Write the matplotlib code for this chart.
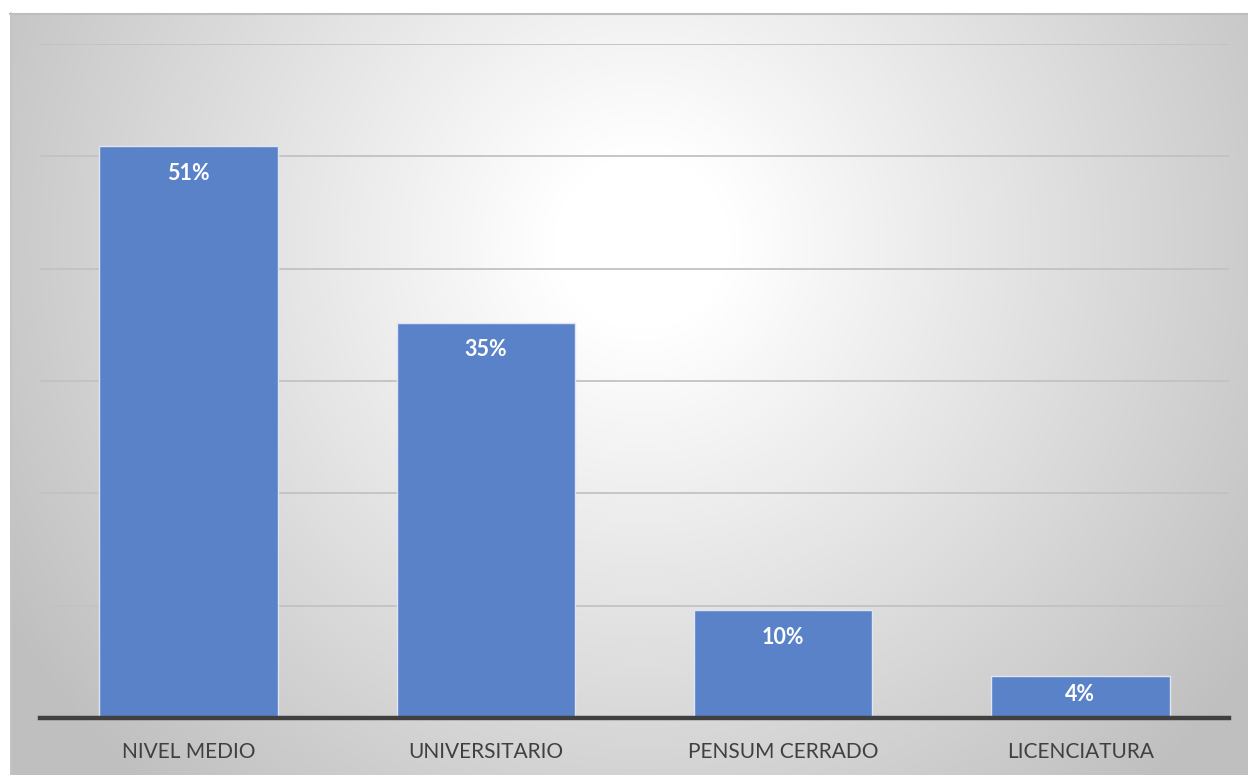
import numpy as np
import matplotlib
matplotlib.use("Agg")
import matplotlib.pyplot as plt

categories = ["NIVEL MEDIO", "UNIVERSITARIO", "PENSUM CERRADO", "LICENCIATURA"]
values = [50.9, 35.2, 9.6, 3.7]
labels = ["51%", "35%", "10%", "4%"]
grid_ticks = [0, 10, 20, 30, 40, 50, 60]

W, H = 1248, 775
fig = plt.figure(figsize=(W / 100, H / 100), dpi=100)
fig.patch.set_facecolor("white")

# chart area background with radial gradient
bx0, by1 = 10 / W, 1 - 13 / H
bg = fig.add_axes([bx0, 0, 1 - bx0, by1])
bg.set_axis_off()
ny, nx = 400, 640
yy, xx = np.mgrid[0:ny, 0:nx]
cx, cy = 0.51 * nx, 0.30 * ny
r = np.sqrt(((xx - cx) / nx) ** 2 + ((yy - cy) / ny * 0.62) ** 2)
r = np.clip(r / 0.60, 0, 1)
light, dark = 1.0, 0.75
v = light - (light - dark) * np.clip((r - 0.12) / 0.88, 0, 1) ** 1.0
img = np.dstack([v, v, v])
bg.imshow(img, extent=[0, 1, 0, 1], aspect="auto", origin="upper", interpolation="bilinear")
bg.set_xlim(0, 1); bg.set_ylim(0, 1)
# top border line
bg.plot([0, 1], [0.999, 0.999], color="#bdbdbd", lw=1.5, transform=bg.transAxes, clip_on=False)
bg.plot([0.001, 0.001], [0, 1], color="#c4c4c4", lw=1.2, transform=bg.transAxes, clip_on=False)

ax = fig.add_axes([40 / W, 1 - 718 / H, (1229 - 40) / W, (718 - 44) / H])
ax.patch.set_alpha(0)
x = np.arange(len(categories))
ax.set_xlim(-0.5, len(categories) - 0.5)
ax.set_ylim(0, 60)
for t in grid_ticks[1:]:
    ax.axhline(t, color="#c2c2c2", lw=1.3, zorder=1)
bars = ax.bar(x, values, width=0.6, color="#5a82c8", edgecolor="#dfe6f3", linewidth=1.0, zorder=2)
for xi, v_, lab in zip(x, values, labels):
    ypos = max(v_ - 2.4, v_ * 0.57)
    ax.text(xi, ypos, lab, ha="center", va="center", color="white",
            fontsize=15.5, fontweight="bold", family=["Lato", "DejaVu Sans"], zorder=3)
ax.axhline(0, color="#404040", lw=3.2, zorder=4, clip_on=False)
for s in ax.spines.values():
    s.set_visible(False)
ax.set_yticks([])
ax.set_xticks(x)
ax.set_xticklabels(categories, fontsize=15, color="#404040", family=["Lato", "DejaVu Sans"])
ax.tick_params(axis="x", length=0, pad=17)

fig.savefig("out.png", dpi=100)
